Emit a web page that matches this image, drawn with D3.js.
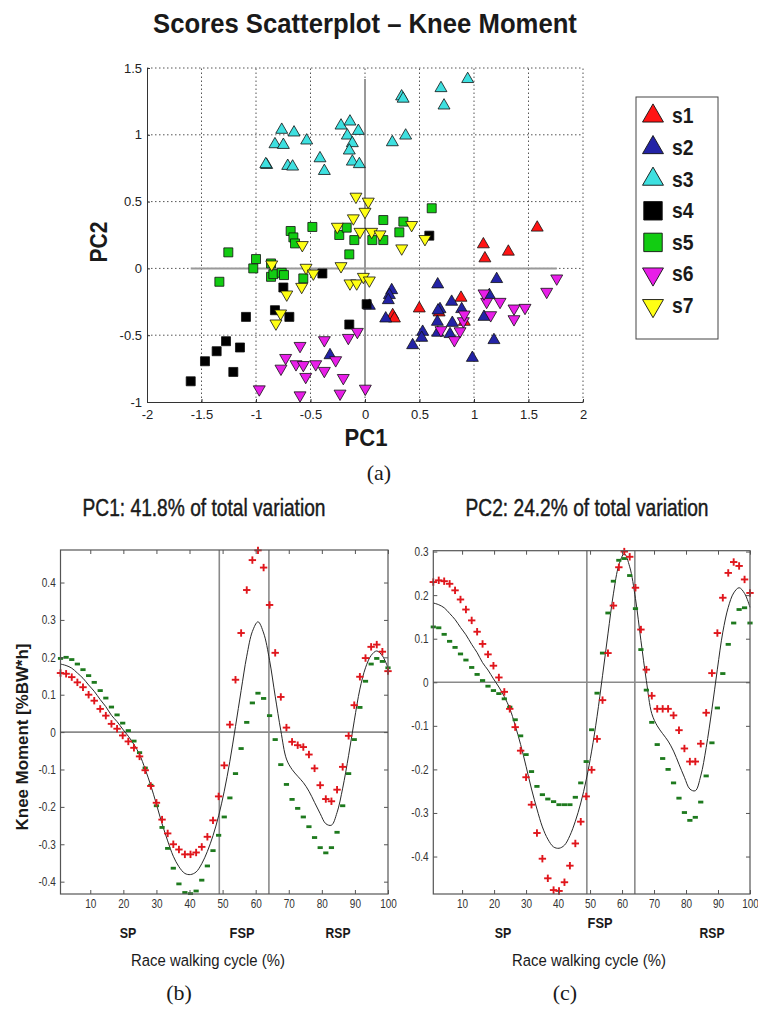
<!DOCTYPE html>
<html>
<head>
<meta http-equiv="Content-Type" content="text/html;charset=utf-8">
<title>Scores Scatterplot - Knee Moment</title>
<script src="https://d3js.org/d3.v7.min.js"></script>
<style type="text/css">
  body { margin: 0; background: #fff; }
  text { font-family: "Liberation Sans", Arial, sans-serif; fill: #1a1a1a; }
  .serif { font-family: "Liberation Serif", "Times New Roman", serif; }
  .bold { font-weight: bold; }
  .heavy { stroke: #1a1a1a; stroke-width: 0.45; }
  .grid line { stroke: #555; stroke-width: 1; stroke-dasharray: 1.5,2.5; }
  .axis path, .axis line { stroke: #333; }
  .tick text { font-size: 13px; fill: #222; }
  .paxis .tick text { font-size: 12.5px; fill: #333; }
  .paxis line { stroke: #555; }
</style>
</head>
<body>
<svg width="758" height="1013"></svg>
<script type="text/javascript">
// ---- scores (PC1, PC2) for each subject ----
var s1 = [[1.58,0.305],[1.086,0.18],[1.10,0.075],[1.315,0.125],[0.498,-0.30],[0.254,-0.35],[0.27,-0.375],[0.881,-0.22],[0.911,-0.40],[0.68,-0.33]];
var s2 = [[0.245,-0.163],[0.224,-0.20],[0.214,-0.238],[0.19,-0.375],[0.529,-0.475],[0.52,-0.52],[0.437,-0.575],[0.667,-0.12],[0.688,-0.305],[0.67,-0.315],[0.664,-0.40],[0.667,-0.482],[0.795,-0.25],[0.801,-0.408],[0.78,-0.492],[0.887,-0.305],[0.985,-0.67],[1.092,-0.363],[1.141,-0.20],[1.208,-0.08],[1.183,-0.537],[-0.321,-0.65],[0.04,-0.28]];
var s3 = [[-0.902,0.774],[-0.91,0.78],[-0.764,1.037],[-0.651,1.017],[-0.826,0.929],[-0.749,0.924],[-0.709,0.767],[-0.664,0.762],[-0.535,0.957],[-0.413,0.824],[-0.373,0.729],[-0.22,1.069],[-0.138,1.099],[-0.061,1.029],[-0.162,0.994],[-0.116,0.937],[-0.144,0.882],[-0.116,0.799],[-0.052,0.78],[0.336,1.287],[0.35,1.27],[0.697,1.349],[0.942,1.417],[0.725,1.219],[0.251,0.944],[0.373,0.994]];
var s4 = [[-1.599,-0.845],[-1.468,-0.695],[-1.361,-0.62],[-1.275,-0.545],[-1.208,-0.775],[-1.147,-0.592],[-1.092,-0.363],[-0.826,-0.313],[-0.694,-0.363],[-0.749,-0.143],[-0.391,-0.038],[-0.144,-0.42],[0.015,-0.268],[0.59,0.245]];
var s5 = [[-1.336,-0.10],[-1.254,0.12],[-1.0,0.07],[-1.025,0.0],[-0.862,0.037],[-0.862,-0.063],[-0.841,-0.043],[-0.764,-0.033],[-0.743,-0.05],[-0.566,-0.075],[-0.682,0.28],[-0.657,0.232],[-0.642,0.187],[-0.483,0.31],[-0.236,0.25],[-0.168,0.305],[-0.098,0.212],[-0.144,0.105],[0.067,0.212],[0.168,0.212],[0.315,0.27],[0.168,0.362],[0.352,0.35],[0.612,0.45]];
var s6 = [[-0.97,-0.905],[-0.596,-0.95],[-0.596,-0.58],[-0.728,-0.67],[-0.771,-0.75],[-0.633,-0.717],[-0.566,-0.723],[-0.544,-0.812],[-0.452,-0.717],[-0.373,-0.537],[-0.373,-0.767],[-0.269,-0.687],[-0.199,-0.82],[-0.229,-0.937],[-0.153,-0.52],[-0.07,-0.475],[0.003,-0.90],[1.759,-0.075],[1.667,-0.175],[1.468,-0.295],[1.367,-0.30],[1.367,-0.38],[1.239,-0.25],[1.153,-0.35],[1.116,-0.25],[1.092,-0.187],[0.902,-0.395],[0.872,-0.47],[0.82,-0.537],[0.697,-0.462],[0.911,-0.345]];
var s7 = [[-0.856,0.03],[-0.575,0.175],[-0.541,0.005],[-0.474,-0.038],[-0.581,-0.138],[-0.718,-0.195],[-0.774,-0.337],[-0.817,-0.412],[-0.22,0.017],[-0.138,-0.112],[-0.076,-0.112],[-0.015,-0.063],[0.04,-0.09],[-0.254,0.312],[-0.046,0.274],[-0.083,0.537],[0.03,0.5],[0.0,0.424],[-0.107,0.375],[0.061,0.274],[0.138,0.255],[0.337,0.15],[0.428,0.325],[0.55,0.22]];
var subjects = [s1, s2, s3, s4, s5, s6, s7];
var subjectNames = ["s1", "s2", "s3", "s4", "s5", "s6", "s7"];
var subjectShapes = ["^", "^", "^", "s", "s", "v", "v"];
var subjectColors = ["#ff1414", "#2323a6", "#3ee0e0", "#000000", "#12cc12", "#e81ee8", "#ffff14"];

var scatterXTicks = [-2, -1.5, -1, -0.5, 0, 0.5, 1, 1.5, 2];
var scatterXLabels = ["-2", "-1.5", "-1", "-0.5", "0", "0.5", "1", "1.5", "2"];
var scatterYTicks = [-1, -0.5, 0, 0.5, 1, 1.5];
var scatterYLabels = ["-1", "-0.5", "0", "0.5", "1", "1.5"];

// ---- PC effect curves over the race walking cycle ----
var cycle = [1,2.7,4.4,6.1,7.8,9.5,11.2,13,14.7,16.4,18.1,19.8,21.5,23.2,24.9,26.6,28.3,30,31.7,33.4,35.1,36.8,38.6,40.3,42,43.7,45.4,47.1,48.8,50.5,52.2,53.9,55.6,57.3,59,60.7,62.4,64.2,65.9,67.6,69.3,71,72.7,74.4,76.1,77.8,79.5,81.2,82.9,84.6,86.3,88.1,89.8,91.5,93.2,94.9,96.6,98.3,100];
var meanCurve = [0.182,0.178,0.171,0.158,0.144,0.126,0.109,0.087,0.068,0.045,0.028,0.008,-0.011,-0.033,-0.060,-0.099,-0.143,-0.193,-0.245,-0.291,-0.332,-0.360,-0.378,-0.381,-0.374,-0.352,-0.319,-0.277,-0.224,-0.158,-0.078,0.015,0.111,0.203,0.269,0.295,0.265,0.192,0.096,0.004,-0.072,-0.100,-0.118,-0.135,-0.158,-0.188,-0.218,-0.245,-0.249,-0.215,-0.150,-0.062,0.030,0.115,0.172,0.205,0.217,0.204,0.172];
var pc1Plus = [0.158,0.156,0.147,0.133,0.120,0.100,0.084,0.062,0.044,0.022,0.009,-0.009,-0.025,-0.042,-0.065,-0.102,-0.144,-0.189,-0.234,-0.271,-0.300,-0.314,-0.327,-0.327,-0.322,-0.307,-0.280,-0.236,-0.172,-0.089,0.020,0.140,0.265,0.380,0.460,0.486,0.440,0.340,0.212,0.094,0.012,-0.026,-0.035,-0.040,-0.060,-0.097,-0.142,-0.179,-0.185,-0.154,-0.093,-0.010,0.072,0.148,0.198,0.228,0.234,0.215,0.163];
var pc1Minus = [0.197,0.200,0.194,0.182,0.167,0.151,0.133,0.111,0.091,0.067,0.046,0.024,0.004,-0.024,-0.055,-0.096,-0.142,-0.197,-0.255,-0.311,-0.364,-0.406,-0.429,-0.432,-0.425,-0.396,-0.358,-0.317,-0.276,-0.227,-0.176,-0.111,-0.044,0.026,0.078,0.104,0.090,0.044,-0.020,-0.087,-0.140,-0.180,-0.204,-0.227,-0.253,-0.282,-0.309,-0.323,-0.309,-0.268,-0.197,-0.111,-0.020,0.066,0.136,0.182,0.197,0.189,0.172];
var pc2Plus = [0.230,0.234,0.232,0.226,0.211,0.190,0.167,0.142,0.116,0.088,0.064,0.038,0.011,-0.022,-0.061,-0.103,-0.157,-0.218,-0.281,-0.346,-0.405,-0.450,-0.477,-0.479,-0.459,-0.421,-0.370,-0.320,-0.262,-0.201,-0.130,-0.041,0.067,0.176,0.264,0.300,0.288,0.217,0.121,0.029,-0.031,-0.061,-0.061,-0.061,-0.076,-0.110,-0.152,-0.182,-0.182,-0.141,-0.070,0.021,0.113,0.194,0.251,0.276,0.267,0.236,0.205];
var pc2Minus = [0.127,0.125,0.110,0.094,0.080,0.065,0.051,0.034,0.018,0.004,-0.009,-0.019,-0.026,-0.038,-0.057,-0.086,-0.123,-0.166,-0.205,-0.239,-0.258,-0.268,-0.274,-0.281,-0.281,-0.281,-0.264,-0.231,-0.182,-0.109,-0.025,0.067,0.159,0.232,0.280,0.284,0.245,0.169,0.075,-0.018,-0.092,-0.143,-0.175,-0.200,-0.231,-0.266,-0.299,-0.317,-0.310,-0.275,-0.215,-0.139,-0.059,0.020,0.087,0.136,0.167,0.171,0.136];
var phaseLines = [49, 64];
var cycleTicks = [10, 20, 30, 40, 50, 60, 70, 80, 90, 100];
var pc1Ticks = [-0.4, -0.3, -0.2, -0.1, 0, 0.1, 0.2, 0.3, 0.4];
var pc1Labels = ["-0.4", "-0.3", "-0.2", "-0.1", "0", "0.1", "0.2", "0.3", "0.4"];
var pc2Ticks = [-0.4, -0.3, -0.2, -0.1, 0, 0.1, 0.2, 0.3];
var pc2Labels = ["-0.4", "-0.3", "-0.2", "-0.1", "0", "0.1", "0.2", "0.3"];

var svg = d3.select("svg");

// squeeze a centred text to a given width (the original uses a narrow face)
function fitText(t, x, y, w, rotate) {
  var len = t.node().getComputedTextLength();
  t.attr("x", 0).attr("y", 0).attr("text-anchor", "middle")
    .attr("transform", "translate(" + x + "," + y + ")" + (rotate ? " rotate(-90)" : "") +
      " scale(" + (w / len) + ",1)");
  return t;
}

// ================= (a) scatterplot =================
var sx = d3.scaleLinear().domain([-2, 2]).range([147, 583]);
var sy = d3.scaleLinear().domain([-1, 1.5]).range([402, 68]);

fitText(svg.append("text").attr("class", "bold").style("font-size", "27px")
  .text("Scores Scatterplot – Knee Moment"), 365, 33, 424);

var grid = svg.append("g").attr("class", "grid");
grid.selectAll(".gx").data(scatterXTicks.slice(1)).enter().append("line")
  .attr("x1", function (d) { return sx(d); }).attr("x2", function (d) { return sx(d); })
  .attr("y1", sy(-1)).attr("y2", sy(1.5));
grid.selectAll(".gy").data(scatterYTicks.slice(1)).enter().append("line")
  .attr("y1", function (d) { return sy(d); }).attr("y2", function (d) { return sy(d); })
  .attr("x1", sx(-2)).attr("x2", sx(2));

// zero lines spanning the data range
var allPts = d3.merge(subjects);
var xExt = d3.extent(allPts, function (d) { return d[0]; });
var yExt = d3.extent(allPts, function (d) { return d[1]; });
svg.append("line").attr("x1", sx(xExt[0])).attr("x2", sx(xExt[1]))
  .attr("y1", sy(0)).attr("y2", sy(0))
  .attr("stroke", "#999").attr("stroke-width", 2);
svg.append("line").attr("x1", sx(0)).attr("x2", sx(0))
  .attr("y1", sy(yExt[0])).attr("y2", sy(yExt[1]))
  .attr("stroke", "#999").attr("stroke-width", 2);

function markerPath(shape, big) {
  if (shape === "s") return d3.symbol().type(d3.symbolSquare).size(big ? 340 : 81)();
  return d3.symbol().type(d3.symbolTriangle).size(big ? 190 : 62)();
}

subjects.forEach(function (pts, k) {
  svg.append("g").selectAll("path").data(pts).enter().append("path")
    .attr("d", markerPath(subjectShapes[k], false))
    .attr("transform", function (d) {
      return "translate(" + sx(d[0]) + "," + sy(d[1]) + ")" + (subjectShapes[k] === "v" ? " rotate(180)" : "");
    })
    .attr("fill", subjectColors[k]).attr("stroke", "#111").attr("stroke-width", 0.8);
});

svg.append("g").attr("class", "axis").attr("transform", "translate(" + sx(-2) + ",0)")
  .call(d3.axisLeft(sy).tickValues(scatterYTicks)
    .tickFormat(function (d, i) { return scatterYLabels[i]; })
    .tickSizeInner(-3).tickSizeOuter(0).tickPadding(5));
svg.append("g").attr("class", "axis").attr("transform", "translate(0," + sy(-1) + ")")
  .call(d3.axisBottom(sx).tickValues(scatterXTicks)
    .tickFormat(function (d, i) { return scatterXLabels[i]; })
    .tickSizeInner(-3).tickSizeOuter(0).tickPadding(8));

fitText(svg.append("text").attr("class", "bold").style("font-size", "23px").text("PC1"), 366, 446, 43);
fitText(svg.append("text").attr("class", "bold").style("font-size", "23px").text("PC2"), 107, 242, 41, true);
svg.append("text").attr("class", "serif").attr("x", 379).attr("y", 480)
  .attr("text-anchor", "middle").style("font-size", "22px").text("(a)");

// legend
var leg = svg.append("g");
leg.append("rect").attr("x", 636).attr("y", 97).attr("width", 82).attr("height", 242)
  .attr("fill", "#fff").attr("stroke", "#444").attr("stroke-width", 1);
subjectNames.forEach(function (name, k) {
  var cy = 116 + k * 31.6;
  leg.append("path").attr("d", markerPath(subjectShapes[k], true))
    .attr("transform", "translate(653," + cy + ")" + (subjectShapes[k] === "v" ? " rotate(180)" : ""))
    .attr("fill", subjectColors[k]).attr("stroke", "#111").attr("stroke-width", 0.9);
  leg.append("text").attr("class", "bold").attr("x", 672).attr("y", cy + 7.5)
    .attr("transform", "translate(672," + (cy + 7.5) + ") scale(0.88,1) translate(-672," + -(cy + 7.5) + ")")
    .style("font-size", "22px").text(name);
});

// ================= (b), (c) PC effect panels =================
function panel(o) {
  var x = d3.scaleLinear().domain([1, 100]).range([o.left, o.right]);
  var y = d3.scaleLinear().domain(o.yDomain).range([894, o.top]);
  var g = svg.append("g");

  // phase and zero lines
  g.selectAll(".phase").data(phaseLines).enter().append("line")
    .attr("x1", function (d) { return x(d); }).attr("x2", function (d) { return x(d); })
    .attr("y1", o.top).attr("y2", 894)
    .attr("stroke", "#8a8a8a").attr("stroke-width", 1.6);
  g.append("line").attr("x1", o.left).attr("x2", o.right)
    .attr("y1", y(0)).attr("y2", y(0))
    .attr("stroke", "#8a8a8a").attr("stroke-width", 1.6);

  var pts = cycle.map(function (c, i) { return [c, meanCurve[i]]; });
  g.append("path").datum(pts)
    .attr("d", d3.line().x(function (d) { return x(d[0]); }).y(function (d) { return y(d[1]); })
      .curve(d3.curveCatmullRom))
    .attr("fill", "none").attr("stroke", "#2a2a2a").attr("stroke-width", 1);

  // minus: green dashes
  g.selectAll(".minus").data(o.minus).enter().append("rect")
    .attr("x", function (d, i) { return x(cycle[i]) - 2.6; })
    .attr("y", function (d) { return y(d) - 1.4; })
    .attr("width", 5.2).attr("height", 2.8)
    .attr("fill", "#1e7a1e");
  // plus: red crosses
  var plus = g.selectAll(".plus").data(o.plus).enter().append("g")
    .attr("transform", function (d, i) { return "translate(" + x(cycle[i]) + "," + y(d) + ")"; });
  plus.append("line").attr("x1", -3.7).attr("x2", 3.7).attr("y1", 0).attr("y2", 0);
  plus.append("line").attr("x1", 0).attr("x2", 0).attr("y1", -3.7).attr("y2", 3.7);
  plus.selectAll("line").attr("stroke", "#e0161c").attr("stroke-width", 1.9);

  // axes with inward ticks on all sides
  g.append("g").attr("class", "paxis").attr("transform", "translate(0,894)")
    .call(d3.axisBottom(x).tickValues(cycleTicks).tickSizeInner(-4).tickSizeOuter(0).tickPadding(5));
  g.append("g").attr("class", "paxis").attr("transform", "translate(0," + o.top + ")")
    .call(d3.axisTop(x).tickValues(cycleTicks).tickSizeInner(-4).tickSizeOuter(0).tickFormat(""));
  g.append("g").attr("class", "paxis").attr("transform", "translate(" + o.left + ",0)")
    .call(d3.axisLeft(y).tickValues(o.yTicks).tickSizeInner(-4).tickSizeOuter(0).tickPadding(6)
      .tickFormat(function (d, i) { return o.yLabels[i]; }));
  g.append("g").attr("class", "paxis").attr("transform", "translate(" + o.right + ",0)")
    .call(d3.axisRight(y).tickValues(o.yTicks).tickSizeInner(-4).tickSizeOuter(0).tickFormat(""));
  g.selectAll(".paxis .domain").remove();
  g.selectAll(".paxis .tick text").attr("transform", "scale(0.8,1)");
  g.append("rect").attr("x", o.left).attr("y", o.top)
    .attr("width", o.right - o.left).attr("height", 894 - o.top)
    .attr("fill", "none").attr("stroke", "#555").attr("stroke-width", 1.2);

  fitText(svg.append("text").attr("class", "heavy").style("font-size", "24px").text(o.title),
    o.titleX, 516, 243);

  o.phases.forEach(function (p) {
    fitText(svg.append("text").attr("class", "bold").style("font-size", "15px").text(p[0]),
      p[1], p[2], p[0].length * 8.3);
  });
  fitText(svg.append("text").style("font-size", "17px").text("Race walking cycle (%)"),
    o.xLabelX, 966, 154);
  svg.append("text").attr("class", "serif").attr("x", o.tagX).attr("y", 1000)
    .attr("text-anchor", "middle").style("font-size", "22px").text(o.tag);
}

panel({
  left: 60.5, right: 388, top: 550, yDomain: [-0.433, 0.487],
  yTicks: pc1Ticks, yLabels: pc1Labels, plus: pc1Plus, minus: pc1Minus,
  title: "PC1: 41.8% of total variation", titleX: 204,
  phases: [["SP", 128, 938], ["FSP", 242, 938], ["RSP", 338, 938]],
  xLabelX: 208, tag: "(b)", tagX: 179
});
panel({
  left: 433.3, right: 750, top: 550.7, yDomain: [-0.486, 0.302],
  yTicks: pc2Ticks, yLabels: pc2Labels, plus: pc2Plus, minus: pc2Minus,
  title: "PC2: 24.2% of total variation", titleX: 587,
  phases: [["SP", 503, 938], ["FSP", 600, 928], ["RSP", 712, 938]],
  xLabelX: 589, tag: "(c)", tagX: 565
});

fitText(svg.append("text").attr("class", "bold").style("font-size", "17px")
  .text("Knee Moment [%BW*h]"), 28, 737, 187, true);
</script>
</body>
</html>
